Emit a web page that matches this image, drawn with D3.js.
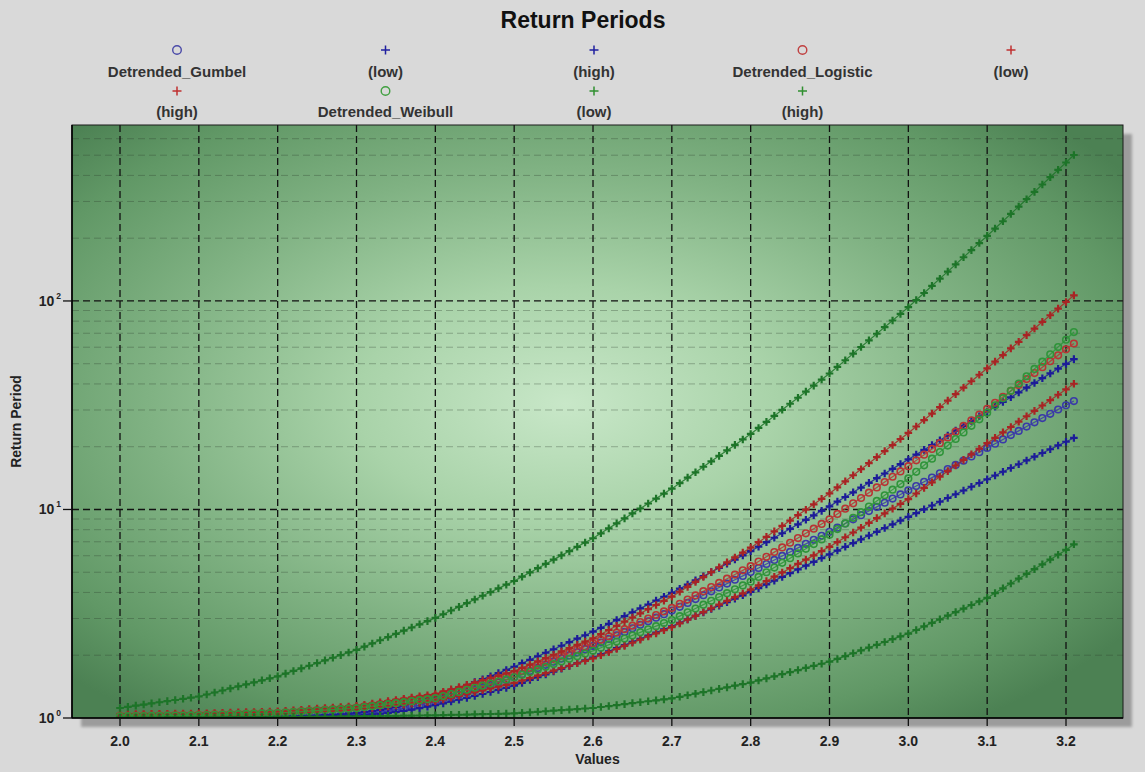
<!DOCTYPE html>
<html><head><meta charset="utf-8">
<script src="https://cdn.jsdelivr.net/npm/d3@7"></script>
<style>
html,body{margin:0;padding:0;background:#d9d9d9;}
svg{display:block;font-family:"Liberation Sans",Arial,sans-serif;}
</style></head><body>
<svg id="chart" width="1145" height="772"></svg>
<script>
const xValues = [2.00,2.01,2.02,2.03,2.04,2.05,2.06,2.07,2.08,2.09,
2.10,2.11,2.12,2.13,2.14,2.15,2.16,2.17,2.18,2.19,
2.20,2.21,2.22,2.23,2.24,2.25,2.26,2.27,2.28,2.29,
2.30,2.31,2.32,2.33,2.34,2.35,2.36,2.37,2.38,2.39,
2.40,2.41,2.42,2.43,2.44,2.45,2.46,2.47,2.48,2.49,
2.50,2.51,2.52,2.53,2.54,2.55,2.56,2.57,2.58,2.59,
2.60,2.61,2.62,2.63,2.64,2.65,2.66,2.67,2.68,2.69,
2.70,2.71,2.72,2.73,2.74,2.75,2.76,2.77,2.78,2.79,
2.80,2.81,2.82,2.83,2.84,2.85,2.86,2.87,2.88,2.89,
2.90,2.91,2.92,2.93,2.94,2.95,2.96,2.97,2.98,2.99,
3.00,3.01,3.02,3.03,3.04,3.05,3.06,3.07,3.08,3.09,
3.10,3.11,3.12,3.13,3.14,3.15,3.16,3.17,3.18,3.19,
3.20,3.21];

const gumbelFit = [1.0009,1.0009,1.0012,1.0012,1.0014,1.0014,1.0016,1.0018,1.0021,1.0023,
1.0025,1.0028,1.0032,1.0037,1.0041,1.0046,1.0053,1.0062,1.0072,1.0081,
1.0092,1.0106,1.0123,1.0144,1.0167,1.0195,1.0226,1.0264,1.0309,1.0361,
1.0423,1.0495,1.0585,1.0693,1.0820,1.0965,1.1133,1.1321,1.1531,1.1764,
1.2023,1.2309,1.2610,1.2927,1.3262,1.3614,1.3983,1.4371,1.4781,1.5212,
1.5668,1.6218,1.6788,1.7378,1.7989,1.8621,1.9275,1.9953,2.0654,2.1380,
2.213,2.302,2.394,2.489,2.588,2.692,2.799,2.911,3.027,3.148,
3.274,3.415,3.564,3.719,3.881,4.050,4.227,4.410,4.603,4.803,
5.012,5.240,5.478,5.726,5.986,6.259,6.544,6.840,7.151,7.477,
7.816,8.182,8.566,8.968,9.389,9.829,10.29,10.77,11.28,11.81,
12.36,12.95,13.57,14.22,14.90,15.62,16.36,17.14,17.96,18.82,
19.73,20.68,21.68,22.73,23.82,24.98,26.18,27.45,28.77,30.16,
31.62,33.11];

const gumbelLow = [1.0007,1.0007,1.0009,1.0009,1.0012,1.0012,1.0014,1.0014,1.0016,1.0018,
1.0021,1.0023,1.0025,1.0028,1.0032,1.0037,1.0041,1.0048,1.0055,1.0062,
1.0069,1.0079,1.0090,1.0102,1.0118,1.0134,1.0155,1.0179,1.0207,1.0240,
1.0280,1.0332,1.0399,1.0483,1.0580,1.0696,1.0827,1.0976,1.1143,1.1329,
1.1535,1.1757,1.1990,1.2235,1.2489,1.2756,1.3035,1.3329,1.3633,1.3954,
1.429,1.474,1.521,1.568,1.618,1.670,1.722,1.776,1.832,1.890,
1.950,2.018,2.089,2.163,2.239,2.317,2.399,2.483,2.570,2.661,
2.754,2.861,2.972,3.086,3.206,3.330,3.459,3.593,3.732,3.877,
4.027,4.198,4.375,4.560,4.753,4.955,5.164,5.382,5.610,5.848,
6.096,6.354,6.622,6.902,7.194,7.499,7.816,8.147,8.491,8.851,
9.226,9.616,10.02,10.45,10.89,11.35,11.83,12.33,12.85,13.40,
13.96,14.55,15.17,15.81,16.48,17.18,17.91,18.66,19.45,20.28,
21.13,22.03];

const gumbelHigh = [1.0023,1.0023,1.0025,1.0028,1.0028,1.0030,1.0032,1.0035,1.0037,1.0041,
1.0046,1.0051,1.0055,1.0062,1.0069,1.0076,1.0085,1.0097,1.0109,1.0123,
1.0139,1.0158,1.0179,1.0205,1.0235,1.0271,1.0313,1.0361,1.0418,1.0486,
1.0566,1.0666,1.0787,1.0932,1.1104,1.1303,1.1528,1.1783,1.2068,1.2388,
1.274,1.312,1.352,1.395,1.439,1.486,1.535,1.587,1.642,1.700,
1.761,1.831,1.902,1.978,2.056,2.137,2.221,2.309,2.400,2.494,
2.594,2.708,2.826,2.950,3.079,3.214,3.354,3.501,3.655,3.814,
3.981,4.169,4.365,4.571,4.786,5.012,5.248,5.495,5.754,6.026,
6.310,6.630,6.966,7.319,7.691,8.081,8.491,8.924,9.376,9.851,
10.35,10.91,11.48,12.09,12.74,13.41,14.13,14.88,15.67,16.50,
17.38,18.33,19.31,20.37,21.48,22.65,23.88,25.18,26.55,27.99,
29.51,31.10,32.78,34.54,36.41,38.37,40.44,42.62,44.92,47.33,
49.89,52.60];

const logisticFit = [1.0233,1.0245,1.0256,1.0268,1.0280,1.0292,1.0304,1.0315,1.0327,1.0339,
1.0351,1.0375,1.0399,1.0423,1.0447,1.0471,1.0495,1.0520,1.0544,1.0568,
1.0593,1.0653,1.0715,1.0777,1.0839,1.0902,1.0965,1.1028,1.1092,1.1156,
1.1220,1.1363,1.1508,1.1655,1.1803,1.1954,1.2106,1.2260,1.2416,1.2575,
1.2735,1.3047,1.3366,1.3693,1.4028,1.4371,1.4723,1.5083,1.5452,1.5831,
1.6218,1.6784,1.7364,1.7961,1.8586,1.9227,1.9894,2.0590,2.1301,2.2042,
2.280,2.371,2.466,2.565,2.667,2.773,2.884,2.999,3.119,3.243,
3.373,3.532,3.699,3.873,4.055,4.247,4.446,4.656,4.875,5.105,
5.346,5.630,5.929,6.245,6.577,6.926,7.295,7.683,8.091,8.521,
8.974,9.520,10.09,10.70,11.35,12.04,12.76,13.54,14.35,15.22,
16.14,17.20,18.32,19.52,20.80,22.16,23.61,25.15,26.79,28.54,
30.41,32.47,34.67,37.03,39.54,42.22,45.08,48.14,51.40,54.89,
58.61,62.52];

const logisticLow = [1.0163,1.0172,1.0182,1.0191,1.0200,1.0210,1.0219,1.0229,1.0238,1.0247,
1.0256,1.0275,1.0294,1.0313,1.0332,1.0351,1.0371,1.0390,1.0409,1.0428,
1.0447,1.0498,1.0549,1.0600,1.0651,1.0703,1.0755,1.0807,1.0859,1.0912,
1.0965,1.1066,1.1169,1.1272,1.1376,1.1482,1.1588,1.1695,1.1803,1.1912,
1.2023,1.2269,1.2520,1.2776,1.3038,1.3305,1.3577,1.3855,1.4139,1.4428,
1.4723,1.5129,1.5545,1.5973,1.6413,1.6866,1.7330,1.7808,1.8298,1.8802,
1.932,2.000,2.070,2.143,2.218,2.296,2.377,2.460,2.547,2.636,
2.729,2.844,2.965,3.090,3.221,3.357,3.499,3.648,3.802,3.963,
4.130,4.330,4.539,4.759,4.989,5.230,5.483,5.748,6.026,6.317,
6.622,6.980,7.358,7.757,8.176,8.619,9.086,9.579,10.10,10.64,
11.22,11.93,12.69,13.50,14.36,15.28,16.25,17.29,18.39,19.55,
20.80,22.07,23.42,24.86,26.38,27.99,29.70,31.52,33.45,35.50,
37.67,40.09];

const logisticHigh = [1.0423,1.0433,1.0442,1.0452,1.0461,1.0471,1.0481,1.0491,1.0500,1.0510,
1.0520,1.0544,1.0568,1.0593,1.0617,1.0641,1.0666,1.0691,1.0715,1.0740,
1.0765,1.0829,1.0894,1.0960,1.1026,1.1092,1.1158,1.1225,1.1293,1.1361,
1.1429,1.1580,1.1733,1.1888,1.2045,1.2204,1.2365,1.2528,1.2694,1.2862,
1.303,1.337,1.371,1.406,1.442,1.479,1.518,1.556,1.596,1.637,
1.679,1.741,1.804,1.871,1.940,2.011,2.085,2.162,2.242,2.325,
2.410,2.524,2.642,2.767,2.897,3.034,3.177,3.326,3.483,3.648,
3.819,4.032,4.256,4.493,4.742,5.006,5.285,5.578,5.888,6.216,
6.561,6.966,7.396,7.852,8.337,8.851,9.397,9.977,10.59,11.25,
11.94,12.76,13.65,14.59,15.60,16.67,17.82,19.05,20.37,21.78,
23.28,25.00,26.85,28.84,30.97,33.27,35.73,38.37,41.21,44.26,
47.53,51.15,55.03,59.21,63.71,68.55,73.75,79.36,85.39,91.87,
98.86,106.4];

const weibullFit = [1.0186,1.0198,1.0210,1.0221,1.0233,1.0245,1.0256,1.0268,1.0280,1.0292,
1.0304,1.0330,1.0356,1.0382,1.0409,1.0435,1.0462,1.0488,1.0515,1.0541,
1.0568,1.0624,1.0681,1.0737,1.0794,1.0852,1.0909,1.0967,1.1026,1.1084,
1.1143,1.1267,1.1392,1.1519,1.1647,1.1776,1.1907,1.2039,1.2173,1.2308,
1.2445,1.2735,1.3032,1.3335,1.3646,1.3964,1.4289,1.4622,1.4962,1.5311,
1.5668,1.6132,1.6611,1.7104,1.7612,1.8134,1.8673,1.9227,1.9797,2.0385,
2.099,2.172,2.247,2.325,2.406,2.489,2.575,2.664,2.757,2.852,
2.951,3.079,3.212,3.351,3.496,3.648,3.805,3.970,4.142,4.321,
4.508,4.748,5.000,5.266,5.546,5.842,6.152,6.479,6.823,7.187,
7.569,8.054,8.570,9.120,9.705,10.33,10.99,11.70,12.45,13.24,
14.09,15.15,16.29,17.52,18.84,20.25,21.78,23.42,25.18,27.07,
29.11,31.55,34.20,37.07,40.18,43.55,47.21,51.17,55.46,60.12,
65.16,70.96];

const weibullLow = [1.0046,1.0048,1.0051,1.0053,1.0055,1.0058,1.0060,1.0062,1.0065,1.0067,
1.0069,1.0074,1.0079,1.0083,1.0088,1.0092,1.0097,1.0102,1.0106,1.0111,
1.0116,1.0123,1.0130,1.0137,1.0144,1.0151,1.0158,1.0165,1.0172,1.0179,
1.0186,1.0198,1.0210,1.0221,1.0233,1.0245,1.0256,1.0268,1.0280,1.0292,
1.0304,1.0325,1.0347,1.0368,1.0390,1.0411,1.0433,1.0454,1.0476,1.0498,
1.0520,1.0583,1.0646,1.0710,1.0775,1.0839,1.0905,1.0970,1.1036,1.1103,
1.117,1.129,1.141,1.153,1.165,1.178,1.190,1.203,1.215,1.229,
1.241,1.264,1.286,1.308,1.331,1.355,1.379,1.403,1.429,1.453,
1.479,1.514,1.549,1.585,1.622,1.660,1.698,1.738,1.778,1.820,
1.862,1.920,1.981,2.044,2.108,2.175,2.244,2.315,2.388,2.464,
2.541,2.643,2.749,2.859,2.974,3.094,3.218,3.347,3.482,3.621,
3.767,3.972,4.188,4.416,4.656,4.909,5.177,5.458,5.754,6.068,
6.398,6.808];

const weibullHigh = [1.117,1.131,1.146,1.160,1.175,1.190,1.205,1.220,1.236,1.251,
1.268,1.296,1.325,1.355,1.386,1.418,1.449,1.482,1.516,1.550,
1.585,1.632,1.681,1.730,1.781,1.835,1.889,1.945,2.002,2.062,
2.123,2.200,2.278,2.360,2.445,2.532,2.623,2.717,2.814,2.915,
3.020,3.145,3.277,3.412,3.555,3.702,3.857,4.017,4.184,4.358,
4.539,4.759,4.989,5.230,5.482,5.748,6.026,6.317,6.622,6.942,
7.277,7.688,8.120,8.578,9.061,9.572,10.11,10.68,11.28,11.92,
12.59,13.37,14.21,15.08,16.03,17.02,18.08,19.20,20.40,21.67,
23.02,24.61,26.30,28.12,30.06,32.14,34.35,36.73,39.26,41.98,
44.88,48.28,51.95,55.90,60.15,64.72,69.63,74.92,80.61,86.73,
93.33,101.0,109.2,118.2,127.9,138.3,149.7,162.0,175.3,189.6,
205.1,222.5,241.2,261.6,283.6,307.6,333.6,361.8,392.2,425.5,
461.3,501.2];

const seriesNames = ["Detrended_Gumbel","(low)","(high)","Detrended_Logistic","(low)","(high)","Detrended_Weibull","(low)","(high)"];
const xTickValues = [2.0,2.1,2.2,2.3,2.4,2.5,2.6,2.7,2.8,2.9,3.0,3.1,3.2];
const xTickLabels = ["2.0","2.1","2.2","2.3","2.4","2.5","2.6","2.7","2.8","2.9","3.0","3.1","3.2"];
const yTickValues = [1,10,100];
const yTickExponents = ["0","1","2"];
const yMinorValues = [2,3,4,5,6,7,8,9,20,30,40,50,60,70,80,90,200,300,400,500,600];

// ---------- layout ----------
const L = 72, T = 125, R = 1123, B = 718;
const svg = d3.select("#chart");

const x = d3.scaleLinear().domain([1.9391, 3.2723]).range([L, R]);
const y = d3.scaleLog().domain([1, 698]).range([B, T]);

const styles = [
  {data: gumbelFit,   shape: "circle", color: "#3a3aa8"},
  {data: gumbelLow,   shape: "plus",   color: "#1c1c98"},
  {data: gumbelHigh,  shape: "plus",   color: "#1c1c98"},
  {data: logisticFit, shape: "circle", color: "#b83434"},
  {data: logisticLow, shape: "plus",   color: "#a82424"},
  {data: logisticHigh,shape: "plus",   color: "#a82424"},
  {data: weibullFit,  shape: "circle", color: "#2f943a"},
  {data: weibullLow,  shape: "plus",   color: "#1d7428"},
  {data: weibullHigh, shape: "plus",   color: "#1d7428"}
];
const legendColors = ["#4a4aa8","#2020a0","#2020a0","#c04040","#c03030","#c03030","#40a040","#309030","#309030"];

const defs = svg.append("defs");
const grad = defs.append("radialGradient").attr("id","bg")
  .attr("cx","0.47").attr("cy","0.47").attr("r","0.66");
[[0,"#c8e7c8"],[0.3,"#a9d3a9"],[0.6,"#80b283"],[0.85,"#619866"],[1,"#4c8153"]]
  .forEach(([o,c]) => grad.append("stop").attr("offset",o).attr("stop-color",c));
defs.append("filter").attr("id","blur").append("feGaussianBlur").attr("stdDeviation",1.6);
defs.append("clipPath").attr("id","clip").append("rect")
  .attr("x",L).attr("y",T).attr("width",R-L).attr("height",B-T);

// shadow
svg.append("rect").attr("x",L+9).attr("y",T+9).attr("width",R-L).attr("height",B-T)
  .attr("fill","#9c9c9c").attr("filter","url(#blur)");
// plot background
svg.append("rect").attr("x",L).attr("y",T).attr("width",R-L).attr("height",B-T)
  .attr("fill","url(#bg)");

// grid
const grid = svg.append("g");
grid.selectAll(".minor").data(yMinorValues).join("line")
  .attr("x1",L).attr("x2",R).attr("y1",d=>y(d)).attr("y2",d=>y(d))
  .attr("stroke","#2a3a2a").attr("stroke-opacity",0.32).attr("stroke-width",1)
  .attr("stroke-dasharray","7,4");
grid.selectAll(".vmaj").data(xTickValues).join("line")
  .attr("x1",d=>x(d)).attr("x2",d=>x(d)).attr("y1",T).attr("y2",B)
  .attr("stroke","#111").attr("stroke-width",1.3).attr("stroke-dasharray","7,4");
grid.selectAll(".hmaj").data(yTickValues.slice(1)).join("line")
  .attr("x1",L).attr("x2",R).attr("y1",d=>y(d)).attr("y2",d=>y(d))
  .attr("stroke","#111").attr("stroke-width",1.3).attr("stroke-dasharray","7,4");

// series
const plot = svg.append("g").attr("clip-path","url(#clip)");
const line = d3.line().x((d,i)=>x(xValues[i])).y(d=>y(d));
styles.forEach(s => {
  const g = plot.append("g");
  g.append("path").attr("d", line(s.data)).attr("fill","none")
    .attr("stroke", s.color).attr("stroke-width",1.2).attr("stroke-opacity",0.85);
  if (s.shape === "circle") {
    g.selectAll("circle").data(s.data).join("circle")
      .attr("cx",(d,i)=>x(xValues[i])).attr("cy",d=>y(d)).attr("r",3.3)
      .attr("fill","none").attr("stroke",s.color).attr("stroke-width",1.6);
  } else {
    g.selectAll("path.m").data(s.data).join("path").attr("class","m")
      .attr("transform",(d,i)=>`translate(${x(xValues[i])},${y(d)})`)
      .attr("d","M-3.8,0H3.8M0,-3.8V3.8")
      .attr("stroke",s.color).attr("stroke-width",2.2).attr("fill","none");
  }
});

// frame and axes
svg.append("rect").attr("x",L).attr("y",T).attr("width",R-L).attr("height",B-T)
  .attr("fill","none").attr("stroke","#1a1a1a").attr("stroke-width",1);
svg.append("line").attr("x1",L).attr("x2",L).attr("y1",T).attr("y2",B)
  .attr("stroke","#000").attr("stroke-width",1.6);
svg.append("line").attr("x1",L).attr("x2",R).attr("y1",B).attr("y2",B)
  .attr("stroke","#000").attr("stroke-width",1.6);

// x ticks
const xt = svg.append("g");
xt.selectAll("line").data(xTickValues).join("line")
  .attr("x1",d=>x(d)).attr("x2",d=>x(d)).attr("y1",B).attr("y2",B+8)
  .attr("stroke","#111").attr("stroke-width",1.3);
xt.selectAll("text").data(xTickValues).join("text")
  .attr("x",d=>x(d)).attr("y",746).attr("text-anchor","middle")
  .attr("font-size",14).attr("font-weight","bold").attr("fill","#222")
  .text((d,i)=>xTickLabels[i]);

// y ticks
const yt = svg.append("g");
yt.selectAll("line").data(yTickValues).join("line")
  .attr("x1",L-9).attr("x2",L).attr("y1",d=>y(d)).attr("y2",d=>y(d))
  .attr("stroke","#111").attr("stroke-width",1.3);
const ytx = yt.selectAll("text").data(yTickValues).join("text")
  .attr("x",L-11).attr("y",d=>y(d)+5).attr("text-anchor","end")
  .attr("font-size",14).attr("font-weight","bold").attr("fill","#222");
ytx.append("tspan").text("10");
ytx.append("tspan").attr("dx",2).attr("dy",-7).attr("font-size",8.5).text((d,i)=>yTickExponents[i]);

// titles
svg.append("text").attr("x",583).attr("y",28).attr("text-anchor","middle")
  .attr("font-size",23).attr("font-weight","bold").attr("fill","#111").text("Return Periods");
svg.append("text").attr("x",(L+R)/2).attr("y",764).attr("text-anchor","middle")
  .attr("font-size",14).attr("font-weight","bold").attr("fill","#222").text("Values");
svg.append("text").attr("transform",`translate(21,${(T+B)/2}) rotate(-90)`)
  .attr("text-anchor","middle").attr("font-size",14).attr("font-weight","bold")
  .attr("fill","#222").text("Return Period");

// legend
const leg = svg.append("g");
seriesNames.forEach((name,i) => {
  const col = i % 5, row = Math.floor(i / 5);
  const cx = 177 + col * 208.5;
  const sy = row === 0 ? 50 : 91;
  const ty = row === 0 ? 77 : 117;
  const s = styles[i];
  if (s.shape === "circle") {
    leg.append("circle").attr("cx",cx).attr("cy",sy).attr("r",4.3)
      .attr("fill","none").attr("stroke",legendColors[i]).attr("stroke-width",1.4);
  } else {
    leg.append("path").attr("transform",`translate(${cx},${sy})`)
      .attr("d","M-4.5,0H4.5M0,-4.5V4.5").attr("stroke",legendColors[i]).attr("stroke-width",1.5);
  }
  leg.append("text").attr("x",cx).attr("y",ty).attr("text-anchor","middle")
    .attr("font-size",15).attr("font-weight","bold").attr("fill","#333").text(name);
});
</script>
</body></html>
